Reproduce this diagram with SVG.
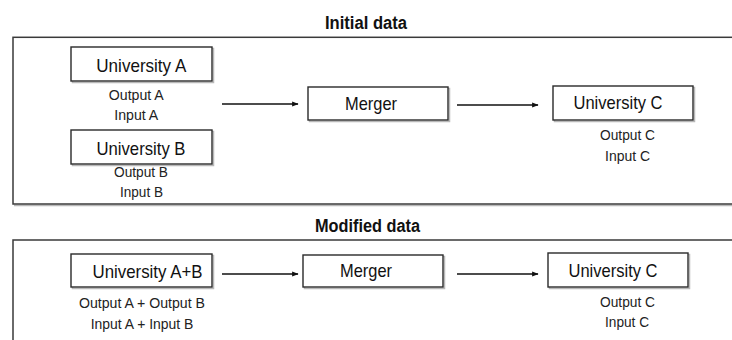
<svg xmlns="http://www.w3.org/2000/svg" width="732" height="340" viewBox="0 0 732 340">
  <style>
    .frame { fill: #ffffff; stroke: #3a3a3a; stroke-width: 1.5; }
    .box { fill: #ffffff; stroke: #2a2a2a; stroke-width: 1.4; }
    .shadow { fill: none; stroke: #b8b8b8; stroke-width: 1.5; }
    .title { font-family: "Liberation Sans", Arial, sans-serif; font-weight: bold; font-size: 18px; fill: #111; text-anchor: middle; }
    .name { font-family: "Liberation Sans", Arial, sans-serif; font-size: 18.5px; fill: #111; text-anchor: middle; }
    .note { font-family: "Liberation Sans", Arial, sans-serif; font-size: 14.5px; fill: #222; text-anchor: middle; }
    .link { stroke: #111; stroke-width: 1.3; fill: none; marker-end: url(#head); }
  </style>
  <defs>
    <marker id="head" viewBox="0 0 10 10" refX="9" refY="5" markerWidth="5" markerHeight="5" orient="auto" markerUnits="strokeWidth">
      <path d="M0,1 L10,5 L0,9 z" fill="#111"/>
    </marker>
  </defs>
  <rect width="732" height="340" fill="#ffffff"/>

  <!-- section frames -->
  <g id="frame-initial">
    <path class="shadow" d="M14,205.5 H733"/>
    <rect class="frame" x="13" y="37.3" width="730" height="166.7"/>
    <text class="title" x="366" y="28.7" textLength="82" lengthAdjust="spacingAndGlyphs">Initial data</text>
  </g>
  <g id="frame-modified">
    <path class="shadow" d="M14,241.5 H733"/>
    <rect class="frame" x="13" y="240" width="730" height="120"/>
    <text class="title" x="367.5" y="231.7" textLength="105" lengthAdjust="spacingAndGlyphs">Modified data</text>
  </g>

  <!-- initial data nodes -->
  <g id="uni-a">
    <rect class="shadow" x="72.5" y="48.5" width="141" height="34"/>
    <rect class="box" x="71" y="47" width="141" height="34"/>
    <text class="name" x="141.3" y="71.7" textLength="90" lengthAdjust="spacingAndGlyphs">University A</text>
    <text class="note" x="136.3" y="100" textLength="55" lengthAdjust="spacingAndGlyphs">Output A</text>
    <text class="note" x="136.3" y="120" textLength="44" lengthAdjust="spacingAndGlyphs">Input A</text>
  </g>
  <g id="uni-b">
    <rect class="shadow" x="72.5" y="131.5" width="141" height="34"/>
    <rect class="box" x="71" y="130" width="141" height="34"/>
    <text class="name" x="141" y="155" textLength="89" lengthAdjust="spacingAndGlyphs">University B</text>
    <text class="note" x="141" y="177" textLength="54" lengthAdjust="spacingAndGlyphs">Output B</text>
    <text class="note" x="141.5" y="197" textLength="43" lengthAdjust="spacingAndGlyphs">Input B</text>
  </g>
  <g id="merger-1">
    <rect class="shadow" x="309.5" y="88.5" width="140" height="33"/>
    <rect class="box" x="308" y="87" width="140" height="33"/>
    <text class="name" x="371" y="110" textLength="52" lengthAdjust="spacingAndGlyphs">Merger</text>
  </g>
  <g id="uni-c-1">
    <rect class="shadow" x="554.5" y="87.5" width="140" height="34"/>
    <rect class="box" x="553" y="86" width="140" height="34"/>
    <text class="name" x="618" y="108.5" textLength="89" lengthAdjust="spacingAndGlyphs">University C</text>
    <text class="note" x="627.5" y="140" textLength="55" lengthAdjust="spacingAndGlyphs">Output C</text>
    <text class="note" x="627.5" y="161" textLength="45" lengthAdjust="spacingAndGlyphs">Input C</text>
  </g>

  <!-- modified data nodes -->
  <g id="uni-ab">
    <rect class="shadow" x="72.5" y="255.5" width="141" height="33"/>
    <rect class="box" x="71" y="254" width="141" height="33"/>
    <text class="name" x="147.5" y="278.3" textLength="110" lengthAdjust="spacingAndGlyphs">University A+B</text>
    <text class="note" x="142" y="308" textLength="126" lengthAdjust="spacingAndGlyphs">Output A + Output B</text>
    <text class="note" x="142" y="329" textLength="102.5" lengthAdjust="spacingAndGlyphs">Input A + Input B</text>
  </g>
  <g id="merger-2">
    <rect class="shadow" x="304.5" y="256.5" width="140" height="32"/>
    <rect class="box" x="303" y="255" width="140" height="32"/>
    <text class="name" x="366" y="277" textLength="52" lengthAdjust="spacingAndGlyphs">Merger</text>
  </g>
  <g id="uni-c-2">
    <rect class="shadow" x="549.5" y="254.5" width="140" height="34"/>
    <rect class="box" x="548" y="253" width="140" height="34"/>
    <text class="name" x="613" y="276.5" textLength="89" lengthAdjust="spacingAndGlyphs">University C</text>
    <text class="note" x="627.5" y="306.5" textLength="55" lengthAdjust="spacingAndGlyphs">Output C</text>
    <text class="note" x="627" y="327" textLength="44" lengthAdjust="spacingAndGlyphs">Input C</text>
  </g>

  <!-- connectors -->
  <g id="connectors">
    <path class="link" d="M222,104 H298"/>
    <path class="link" d="M457,105 H538"/>
    <path class="link" d="M222,274 H298"/>
    <path class="link" d="M457,274 H538"/>
  </g>
</svg>
